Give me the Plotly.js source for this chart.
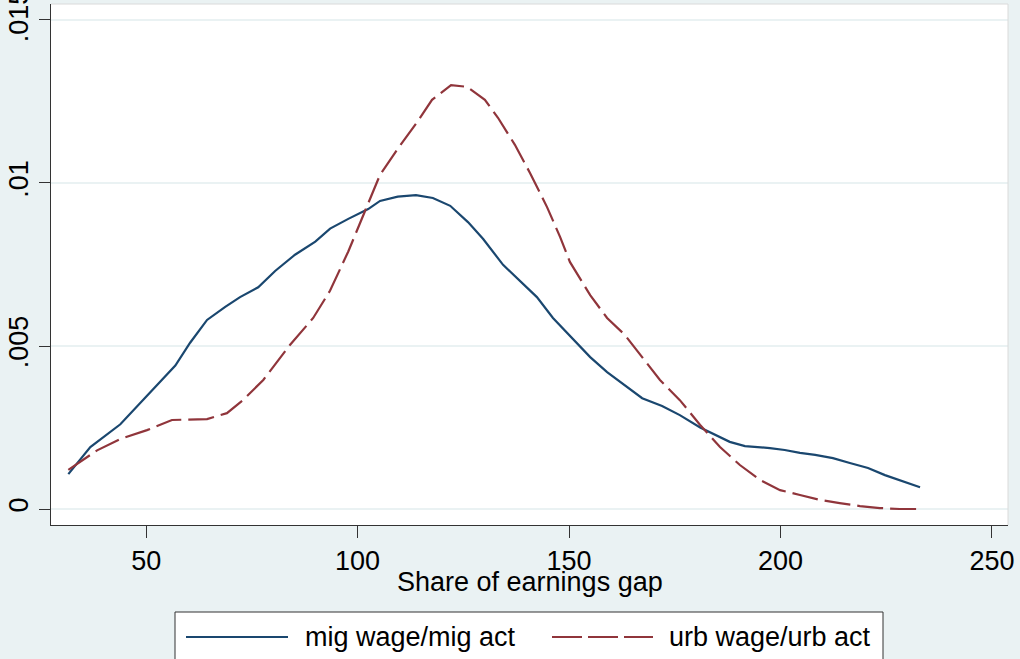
<!DOCTYPE html>
<html>
<head>
<meta charset="utf-8">
<script src="https://cdn.plot.ly/plotly-3.0.1.min.js"></script>
<style>html,body{margin:0;padding:0;background:#EAF2F3;}#chart{width:1020px;height:659px;}</style>
</head>
<body>
<div id="chart"></div>
<script>
// ---- data ----
const migX = [31.6, 36.8, 43.9, 51.7, 56.9, 60.4, 64.4, 68.7, 72.2, 76.5, 80.5, 85.2, 90.0, 93.5, 97.8, 102.5, 105.3, 109.5, 113.8, 117.8, 121.9, 126.1, 129.7, 134.4, 138.4, 142.4, 146.2, 150.2, 155.0, 159.0, 163.2, 167.3, 172.0, 176.2, 181.0, 184.5, 188.0, 191.6, 197.5, 201.0, 204.6, 208.2, 212.4, 216.4, 220.7, 224.7, 228.7, 233.0];
const migY = [0.00107, 0.0019, 0.0026, 0.0037, 0.0044, 0.0051, 0.0058, 0.0062, 0.0065, 0.0068, 0.0073, 0.0078, 0.0082, 0.0086, 0.0089, 0.0092, 0.00945, 0.00958, 0.00963, 0.00954, 0.0093, 0.0088, 0.00828, 0.00749, 0.0070, 0.0065, 0.00586, 0.0053, 0.00466, 0.0042, 0.0038, 0.0034, 0.00316, 0.00288, 0.0025, 0.00227, 0.00206, 0.00193, 0.00187, 0.00181, 0.00172, 0.00166, 0.00156, 0.00141, 0.00126, 0.00104, 0.00086, 0.00067];

const urbX = [31.6, 38.4, 43.9, 50.2, 56.1, 64.4, 69.1, 72.9, 77.7, 84.0, 89.5, 93.5, 97.8, 102.2, 105.3, 109.6, 114.1, 117.6, 122.1, 125.9, 130.1, 133.2, 137.2, 140.8, 144.8, 147.9, 150.2, 155.0, 159.0, 163.2, 167.3, 171.5, 176.2, 181.0, 185.7, 190.4, 195.2, 199.9, 204.6, 209.3, 214.0, 218.8, 223.5, 228.2, 233.0];
const urbY = [0.0012, 0.0018, 0.00215, 0.00242, 0.00273, 0.00276, 0.00294, 0.00334, 0.00396, 0.00503, 0.00586, 0.0067, 0.0079, 0.00926, 0.01025, 0.01107, 0.01187, 0.01255, 0.0130, 0.01295, 0.01255, 0.0120, 0.01117, 0.0103, 0.00926, 0.00834, 0.00758, 0.00656, 0.00586, 0.00534, 0.00466, 0.00396, 0.00334, 0.00258, 0.0019, 0.00135, 0.00089, 0.00058, 0.00043, 0.00028, 0.00018, 0.00009, 0.00003, 0.0, 0.0];

const seriesNames = ["mig wage/mig act", "urb wage/urb act"];
const xTickVals = [50, 100, 150, 200, 250];
const yTickVals = [0, 0.005, 0.01, 0.015];
const yTickText = ["0", ".005", ".01", ".015"];
const xTitle = "Share of earnings gap";

// ---- styling ----
const FONT = "Liberation Sans, Arial, sans-serif";
const FS = 27;
const BLUE = "#1A476F";
const RED = "#90353B";
const DASH = "26px,7px";

// plot area in pixels (for legend/title placement in paper coords)
const W = 1020, H = 659;
const M = {l: 51, r: 12, t: 4, b: 134};
const pw = W - M.l - M.r, ph = H - M.t - M.b;
const px = v => (v - M.l) / pw;
const py = v => (H - M.b - v) / ph;

const traces = [
  {x: migX, y: migY, name: seriesNames[0], type: "scatter", mode: "lines",
   line: {color: BLUE, width: 2.2}, showlegend: false, hoverinfo: "skip"},
  {x: urbX, y: urbY, name: seriesNames[1], type: "scatter", mode: "lines",
   line: {color: RED, width: 2.2, dash: DASH}, showlegend: false, hoverinfo: "skip"}
];

const legTop = 612, legBot = 700, legMid = 637;
const layout = {
  width: W, height: H,
  margin: M,
  paper_bgcolor: "#EAF2F3",
  plot_bgcolor: "#FFFFFF",
  font: {family: FONT, size: FS, color: "#000"},
  showlegend: false,
  xaxis: {
    range: [27.5, 253.8], tickvals: xTickVals, ticks: "outside", ticklen: 12,
    tickcolor: "#333", tickwidth: 1, showline: true, linecolor: "#333", linewidth: 1,
    showgrid: false, zeroline: false, fixedrange: true,
    tickfont: {family: FONT, size: FS, color: "#000"}
  },
  yaxis: {
    range: [-0.00049, 0.01549], tickvals: yTickVals, ticktext: yTickText,
    tickangle: -90, ticks: "outside", ticklen: 11, tickcolor: "#333", tickwidth: 1,
    showline: true, linecolor: "#333", linewidth: 1, ticklabeloverflow: "allow",
    showgrid: true, gridcolor: "#EAF2F3", gridwidth: 2, zeroline: false, fixedrange: true,
    tickfont: {family: FONT, size: FS, color: "#000"}
  },
  shapes: [
    {type: "line", xref: "paper", yref: "paper", x0: 0, x1: 1, y0: 1, y1: 1,
     line: {color: "#DADADA", width: 1}},
    {type: "line", xref: "paper", yref: "paper", x0: 1, x1: 1, y0: 0, y1: 1,
     line: {color: "#DADADA", width: 1}},
    // legend box
    {type: "rect", xref: "paper", yref: "paper", x0: px(175), x1: px(883), y0: py(legTop), y1: py(legBot),
     line: {color: "#333", width: 1}, fillcolor: "#FFFFFF"},
    {type: "line", xref: "paper", yref: "paper", x0: px(186), x1: px(288), y0: py(legMid), y1: py(legMid),
     line: {color: BLUE, width: 2.2}},
    {type: "line", xref: "paper", yref: "paper", x0: px(552), x1: px(653), y0: py(legMid), y1: py(legMid),
     line: {color: RED, width: 2.2, dash: "30px,6px"}}
  ],
  annotations: [
    {xref: "paper", yref: "paper", x: px(530), y: py(582), xanchor: "center", yanchor: "middle",
     text: xTitle, showarrow: false, font: {family: FONT, size: FS, color: "#000"}},
    {xref: "paper", yref: "paper", x: px(303), y: py(legMid), xanchor: "left", yanchor: "middle",
     text: seriesNames[0], showarrow: false, font: {family: FONT, size: FS, color: "#000"}},
    {xref: "paper", yref: "paper", x: px(667), y: py(legMid), xanchor: "left", yanchor: "middle",
     text: seriesNames[1], showarrow: false, font: {family: FONT, size: FS, color: "#000"}}
  ]
};

Plotly.newPlot("chart", traces, layout, {staticPlot: true, displayModeBar: false});
</script>
</body>
</html>
